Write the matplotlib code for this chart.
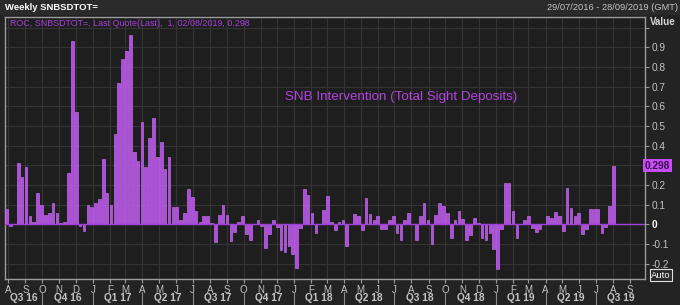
import numpy as np
import pandas as pd
import matplotlib
matplotlib.use("Agg")
import matplotlib.pyplot as plt
import matplotlib.transforms as mtrans

plt.rcParams["font.family"] = ["Liberation Sans", "DejaVu Sans"]

# weekly rate of change of SNB total sight deposits, 29/07/2016 .. 02/08/2019
start_date = "2016-07-29"
roc = [
    0.08, -0.01, 0.002, 0.31, 0.24, 0.29, 0.04, 0.01, 0.16, 0.10,
    0.045, 0.055, 0.11, 0.06, 0.005, 0.01, 0.26, 0.93, 0.57, -0.01,
    -0.035, 0.10, 0.09, 0.11, 0.13, 0.33, 0.16, 0.10, 0.46, 0.72,
    0.84, 0.88, 0.96, 0.37, 0.32, 0.52, 0.29, 0.44, 0.54, 0.34,
    0.42, 0.28, 0.34, 0.09, 0.09, 0.02, 0.06, 0.18, 0.14, 0.07,
    0.01, 0.04, 0.04, 0.005, -0.09, 0.046, 0.10, 0.046, -0.085, -0.04,
    0.012, 0.04, -0.048, -0.08, 0.003, 0.02, -0.01, -0.12, -0.05, 0.02,
    -0.014, -0.13, -0.14, -0.11, -0.15, -0.22, -0.02, 0.18, 0.15, 0.06,
    -0.045, 0.003, 0.075, 0.145, 0.012, -0.03, 0.01, 0.024, -0.108, 0.003,
    0.05, 0.043, -0.03, 0.135, 0.05, 0.024, 0.04, -0.024, -0.026, 0.024,
    0.043, -0.045, -0.08, 0.02, 0.055, 0.003, -0.08, 0.04, 0.106, 0.02,
    -0.10, 0.045, 0.11, 0.095, 0.055, -0.068, 0.02, 0.068, 0.026, -0.082,
    -0.055, 0.03, 0.008, -0.072, -0.082, -0.046, -0.128, -0.227, -0.022, 0.208,
    0.208, 0.068, -0.072, 0.003, 0.02, 0.04, -0.017, -0.038, -0.026, 0.003,
    0.043, 0.032, 0.065, 0.04, -0.034, 0.183, 0.082, 0.04, 0.055, -0.05,
    -0.022, 0.077, 0.077, 0.077, -0.043, -0.012, 0.094, 0.298,
]
last_value = 0.298
y_ticks = [-0.2, -0.1, 0, 0.1, 0.2, 0.3, 0.4, 0.5, 0.6, 0.7, 0.8, 0.9, 1.0]
y_labels = ["-0.2", "-0.1", "0", "0.1", "0.2", "", "0.4", "0.5", "0.6", "0.7", "0.8", "0.9", ""]
quarters = ["Q3 16", "Q4 16", "Q1 17", "Q2 17", "Q3 17", "Q4 17", "Q1 18",
            "Q2 18", "Q3 18", "Q4 18", "Q1 19", "Q2 19", "Q3 19"]

dates = pd.date_range(start_date, periods=len(roc), freq="7D")
x0 = pd.Timestamp("2016-07-26")
x1 = pd.Timestamp("2019-09-28")

BG = "#232323"
PANEL = "#1e1e1e"
GRID = "#343434"
PURPLE = "#b24ae4"
TXT = "#c4c4c4"

fig = plt.figure(figsize=(6.8, 3.05), dpi=100, facecolor=BG)
W, H = 680.0, 305.0
ax = fig.add_axes([5 / W, 1 - 279 / H, 640 / W, 262 / H], facecolor=PANEL)

# header band
fig.patches.append(plt.Rectangle((0, 1 - 15 / H), 1, 15 / H, transform=fig.transFigure,
                                 facecolor="#2a2a2a", edgecolor="none", zorder=0))
fig.text(5 / W, 1 - 8 / H, "Weekly SNBSDTOT=", color="white", fontsize=6.8,
         fontweight="bold", va="center", ha="left")
fig.text(678 / W, 1 - 8 / H, "29/07/2016 - 28/09/2019 (GMT)", color=TXT,
         fontsize=6.7, va="center", ha="right")

ax.bar(dates, roc, width=4.8, color=PURPLE, edgecolor="#cf7cf6", linewidth=0.4, zorder=3)
ax.axhline(0, color="#a040d8", linewidth=1, zorder=4)

ax.set_xlim(x0, x1)
ax.set_ylim(-0.278, 1.054)

# grid
months = pd.date_range("2016-08-01", "2019-09-01", freq="MS")
for m in months:
    ax.axvline(m, color=GRID, linewidth=0.8, zorder=1)
for t in y_ticks:
    ax.axhline(t, color=GRID, linewidth=0.8, zorder=1)

# y axis on the right
ax.yaxis.tick_right()
ax.set_yticks(y_ticks)
ax.set_yticklabels(y_labels)
ax.tick_params(axis="y", colors="#9a9a9a", labelcolor=TXT, labelsize=7.3, length=3, pad=2)
for lab in ax.get_yticklabels():
    if lab.get_text() == "0":
        lab.set_color("white")
        lab.set_fontweight("bold")

# month letters
ax.set_xticks(months)
ax.set_xticklabels([m.strftime("%b")[0] for m in months])
ax.tick_params(axis="x", colors="#9a9a9a", labelcolor=TXT, labelsize=7, length=3, pad=1)

# quarter labels + separators
trans = mtrans.blended_transform_factory(ax.transData, ax.transAxes)
q_starts = pd.date_range("2016-07-01", "2019-07-01", freq="QS")
for i, qs in enumerate(q_starts):
    qe = qs + pd.offsets.QuarterBegin(startingMonth=1)
    a = max(qs, x0)
    b = min(qe, x1)
    mid = a + (b - a) / 2
    ax.text(mid, -0.074, quarters[i], transform=trans, ha="center", va="center",
            color=TXT, fontsize=7.3, fontweight="bold", clip_on=False)
    if qs > x0:
        ax.plot([qs, qs], [-0.05, -0.1], transform=trans, color="#8a8a8a",
                linewidth=0.8, clip_on=False)

for s in ax.spines.values():
    s.set_color("#9c9c9c")
    s.set_linewidth(1)

# legend line and chart note
ax.text(5 / 640, 1 - 6 / 262, "ROC, SNBSDTOT=, Last Quote(Last),  1, 02/08/2019, 0.298",
        transform=ax.transAxes, color="#a640dc", fontsize=6.4, va="center", ha="left")
ax.text(280 / 640, 0.695, "SNB Intervention (Total Sight Deposits)", transform=ax.transAxes,
        color="#b444e0", fontsize=9.6, va="center", ha="left")

# right side labels
fig.text(650 / W, 1 - 22 / H, "Value", color="#d6d6d6", fontsize=7, fontweight="bold",
         va="center", ha="left")
right_trans = mtrans.blended_transform_factory(ax.transAxes, ax.transData)
ax.text(1.0, last_value, "0.298", transform=right_trans,
        color="#3a0f4e", fontsize=7.3, fontweight="bold", va="center", ha="left",
        bbox=dict(boxstyle="square,pad=0.15", facecolor="#c64ef2", edgecolor="none"),
        zorder=6, clip_on=False)
fig.text(661 / W, 1 - 275 / H, "Auto", color="white", fontsize=6.8, va="center", ha="center",
         bbox=dict(boxstyle="square,pad=0.15", facecolor="#2a2a2a", edgecolor="#e0e0e0",
                   linewidth=0.8))

fig.savefig("out.png", dpi=100, facecolor=BG)
